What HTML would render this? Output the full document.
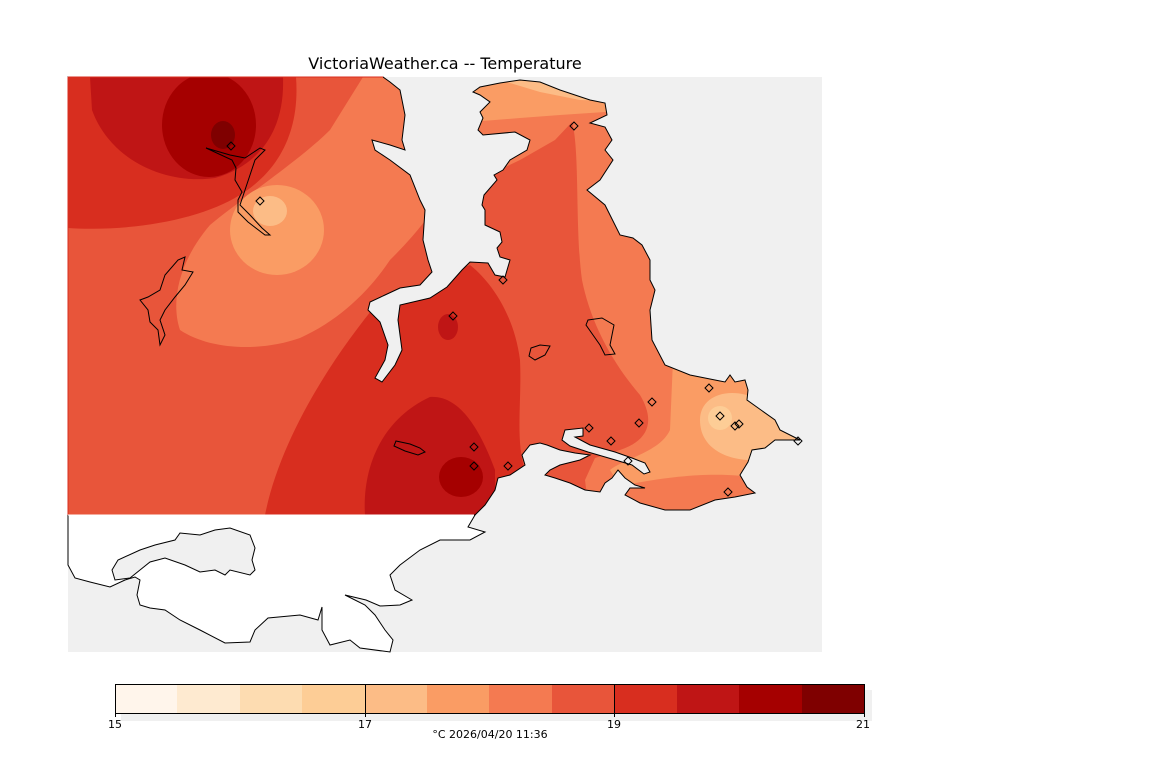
<!DOCTYPE html>
<html><head><meta charset="utf-8"><style>
html,body{margin:0;padding:0;background:#fff;width:1152px;height:768px;overflow:hidden}
svg{display:block}
text{font-family:"DejaVu Sans","Liberation Sans",sans-serif}
</style></head><body>
<svg width="1152" height="768" viewBox="0 0 1152 768" xmlns="http://www.w3.org/2000/svg">
<defs>
<clipPath id="land"><path id="lp" d="M68,77 L383,77 L390,82 L400,90 L402,100 L405,115 L402,140 L405,150 L390,145 L372,140 L375,150 L390,160 L410,175 L420,200 L425,210 L423,240 L428,260 L432,272 L420,285 L400,288 L385,295 L370,302 L368,310 L380,322 L388,345 L385,360 L375,378 L382,382 L395,365 L402,350 L398,320 L400,305 L430,298 L447,287 L462,270 L470,262 L488,263 L495,275 L505,277 L510,260 L500,257 L497,248 L502,242 L500,232 L485,225 L485,210 L482,205 L484,195 L497,180 L494,175 L503,170 L510,160 L527,150 L530,140 L515,132 L483,135 L478,130 L483,118 L480,112 L490,102 L480,95 L473,92 L480,87 L500,83 L520,80 L540,82 L560,90 L590,100 L605,103 L607,115 L590,123 L605,127 L612,140 L605,150 L613,160 L600,180 L587,190 L605,205 L620,235 L633,238 L642,245 L650,260 L650,280 L655,290 L650,310 L652,340 L665,365 L690,375 L725,382 L730,375 L735,382 L745,380 L748,390 L747,400 L775,420 L780,430 L800,440 L775,440 L765,448 L752,450 L748,462 L740,475 L747,487 L755,493 L735,497 L715,500 L690,510 L665,510 L640,503 L625,495 L630,488 L645,488 L635,485 L625,478 L618,470 L612,478 L605,483 L600,492 L585,490 L570,483 L555,478 L545,475 L550,470 L560,465 L580,460 L590,455 L575,453 L560,450 L547,445 L540,443 L530,445 L522,455 L525,465 L510,475 L498,478 L495,490 L485,505 L475,515 L68,515 Z"/></clipPath>
</defs>
<rect x="68" y="77" width="754" height="575" fill="#f0f0f0"/>
<!-- white land south -->
<path d="M68,515 L475,515 L468,527 L485,532 L470,540 L440,540 L420,550 L400,565 L390,575 L395,590 L412,600 L400,605 L380,606 L366,600 L345,595 L365,605 L375,615 L385,630 L393,640 L390,652 L360,648 L350,640 L330,645 L322,630 L322,607 L318,620 L300,615 L268,618 L255,630 L250,642 L225,643 L200,630 L180,620 L165,610 L150,608 L140,605 L137,595 L140,580 L135,577 L125,580 L110,587 L90,582 L75,578 L68,565 Z" fill="#fff" stroke="#000" stroke-width="1"/>
<path d="M112,570 L118,560 L140,550 L155,545 L175,540 L180,533 L200,535 L215,530 L230,528 L250,535 L255,548 L252,560 L255,570 L250,575 L230,570 L225,575 L215,570 L200,572 L185,565 L165,558 L150,562 L140,570 L130,578 L115,580 Z" fill="#f0f0f0" stroke="#000" stroke-width="1"/>
<g clip-path="url(#land)">
<rect x="68" y="77" width="754" height="440" fill="#e8553a"/>
<path d="M363,77 L420,77 L440,200 C420,230 400,250 390,260 C370,290 340,320 300,338 C260,352 210,350 180,330 C170,300 180,260 210,225 C240,200 300,160 330,130 Z" fill="#f47a51"/>
<ellipse cx="277" cy="230" rx="47" ry="45" fill="#fa9c64"/>
<ellipse cx="270" cy="211" rx="17" ry="15" fill="#fcbc86"/>
<path d="M68,77 L296,77 C300,130 280,170 240,195 C200,220 130,232 68,228 Z" fill="#d82e1f"/>
<path d="M90,77 L283,77 C285,130 260,165 215,178 C165,185 110,160 92,110 Z" fill="#bf1515"/>
<ellipse cx="209" cy="125" rx="47" ry="52" fill="#a50000"/>
<ellipse cx="223" cy="135" rx="12" ry="14" fill="#7f0000"/>
<path d="M265,515 C280,440 330,360 380,300 L470,265 C495,285 515,320 520,360 C522,400 515,440 525,470 L480,515 Z" fill="#d82e1f"/>
<ellipse cx="448" cy="327" rx="10" ry="13" fill="#bf1515"/>
<path d="M365,515 C362,470 380,420 430,397 C460,395 480,430 495,470 L495,515 Z" fill="#bf1515"/>
<ellipse cx="461" cy="477" rx="22" ry="20" fill="#a50000"/>
<path d="M470,184 L520,160 L555,140 L572,122 C580,150 575,230 582,280 C590,320 610,360 640,395 C655,420 650,440 620,450 L595,458 L585,480 L590,520 L820,520 L820,77 L470,77 Z" fill="#f47a51"/>
<path d="M470,77 L820,77 L820,112 L605,112 L560,115 L520,118 L470,122 Z" fill="#fa9c64"/>
<path d="M490,77 L820,77 L820,108 L580,100 L540,92 Z" fill="#fcbc86"/>
<path d="M673,360 L820,360 L820,478 L760,478 C720,472 680,474 620,486 L610,470 C625,458 660,452 670,430 Z" fill="#fa9c64"/>
<path d="M700,420 C700,395 730,385 760,400 L820,410 L820,460 L760,460 C730,462 700,450 700,420 Z" fill="#fcbc86"/>
<ellipse cx="720" cy="418" rx="12" ry="12" fill="#fdcd96"/>
</g>
<use href="#lp" fill="none" stroke="#000" stroke-width="1"/>
<!-- field box edge mask (remove outline on straight edges) -->
<line x1="68" y1="77" x2="383" y2="77" stroke="#d82e1f" stroke-width="1"/>
<line x1="68" y1="77" x2="68" y2="515" stroke="#d82e1f" stroke-width="1"/>
<line x1="68" y1="515" x2="474" y2="515" stroke="#fff" stroke-width="1"/>
<!-- gorge waterway -->
<path d="M562,440 L565,430 L583,428 L583,436 L575,437 L590,445 L615,452 L632,458 L645,463 L650,472 L644,474 L632,465 L612,459 L588,452 L570,446 Z" fill="#f0f0f0" stroke="#000" stroke-width="1"/>
<!-- lakes -->
<g fill="none" stroke="#000" stroke-width="1">
<path d="M185,257 L182,270 L193,272 L185,285 L175,297 L165,310 L160,320 L165,335 L160,345 L158,330 L150,322 L148,310 L140,300 L148,297 L160,290 L165,275 L178,260 Z"/>
<path d="M206,148 L230,155 L245,158 L260,148 L265,150 L255,160 L250,175 L245,190 L240,205 L250,215 L262,228 L270,235 L265,235 L248,222 L238,212 L238,200 L242,192 L235,180 L236,168 L232,160 Z"/>
<path d="M396,441 L410,444 L420,448 L425,452 L418,455 L405,451 L394,446 Z"/>
<path d="M588,320 L602,318 L614,325 L612,335 L610,345 L615,354 L605,355 L600,345 L593,335 L586,325 Z"/>
<path d="M531,348 L540,345 L550,346 L545,355 L535,360 L529,356 Z"/>
</g>
<!-- stations -->
<g fill="none" stroke="#000" stroke-width="1">
<path d="M231,142 l4,4 l-4,4 l-4,-4 Z"/><path d="M260,197 l4,4 l-4,4 l-4,-4 Z"/>
<path d="M453,312 l4,4 l-4,4 l-4,-4 Z"/><path d="M503,276 l4,4 l-4,4 l-4,-4 Z"/>
<path d="M474,443 l4,4 l-4,4 l-4,-4 Z"/><path d="M474,462 l4,4 l-4,4 l-4,-4 Z"/>
<path d="M508,462 l4,4 l-4,4 l-4,-4 Z"/><path d="M574,122 l4,4 l-4,4 l-4,-4 Z"/>
<path d="M652,398 l4,4 l-4,4 l-4,-4 Z"/><path d="M709,384 l4,4 l-4,4 l-4,-4 Z"/>
<path d="M639,419 l4,4 l-4,4 l-4,-4 Z"/><path d="M589,424 l4,4 l-4,4 l-4,-4 Z"/>
<path d="M611,437 l4,4 l-4,4 l-4,-4 Z"/><path d="M628,457 l4,4 l-4,4 l-4,-4 Z"/>
<path d="M720,412 l4,4 l-4,4 l-4,-4 Z"/><path d="M735,422 l4,4 l-4,4 l-4,-4 Z"/>
<path d="M739,420 l4,4 l-4,4 l-4,-4 Z"/><path d="M798,437 l4,4 l-4,4 l-4,-4 Z"/>
<path d="M728,488 l4,4 l-4,4 l-4,-4 Z"/>
</g>
<text x="445" y="69" font-size="16" text-anchor="middle" fill="#000">VictoriaWeather.ca -- Temperature</text>
<!-- colorbar -->
<rect x="121" y="690" width="751" height="31" fill="#f0f0f0"/>
<g stroke="none">
<rect x="115" y="684" width="63" height="29" fill="#fff5eb"/>
<rect x="177" y="684" width="63" height="29" fill="#feead0"/>
<rect x="240" y="684" width="63" height="29" fill="#fddcb1"/>
<rect x="302" y="684" width="63" height="29" fill="#fdcd96"/>
<rect x="365" y="684" width="63" height="29" fill="#fcbc86"/>
<rect x="427" y="684" width="63" height="29" fill="#fa9c64"/>
<rect x="489" y="684" width="63" height="29" fill="#f47a51"/>
<rect x="552" y="684" width="63" height="29" fill="#e8553a"/>
<rect x="614" y="684" width="63" height="29" fill="#d82e1f"/>
<rect x="677" y="684" width="63" height="29" fill="#bf1515"/>
<rect x="739" y="684" width="63" height="29" fill="#a50000"/>
<rect x="802" y="684" width="62" height="29" fill="#7f0000"/>
</g>
<rect x="115.5" y="684.5" width="749" height="29" fill="none" stroke="#000"/>
<line x1="365.5" y1="684" x2="365.5" y2="713" stroke="#000"/>
<line x1="614.5" y1="684" x2="614.5" y2="713" stroke="#000"/>
<line x1="115.5" y1="713" x2="115.5" y2="717" stroke="#000"/>
<line x1="365.5" y1="713" x2="365.5" y2="717" stroke="#000"/>
<line x1="614.5" y1="713" x2="614.5" y2="717" stroke="#000"/>
<line x1="864.5" y1="713" x2="864.5" y2="717" stroke="#000"/>
<g font-size="11" text-anchor="middle" fill="#000">
<text x="115" y="728">15</text><text x="365" y="728">17</text><text x="614" y="728">19</text><text x="863" y="728">21</text>
<text x="490" y="738">°C  2026/04/20 11:36</text>
</g>
</svg>
</body></html>
